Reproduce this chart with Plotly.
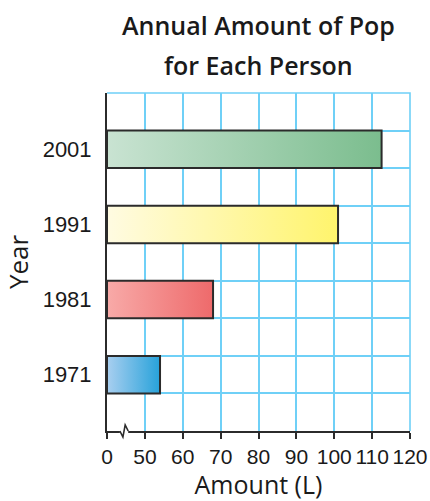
import plotly.graph_objects as go

# Annual pop consumption per person (litres)
years = ["1971", "1981", "1991", "2001"]
amounts = [54, 68, 101, 112.5]
bar_colors = [
    ("#a9cff0", "#27a2da"),
    ("#f8aaa8", "#ee6a6b"),
    ("#fffbe2", "#fff46c"),
    ("#c9e3d2", "#7bbd8e"),
]
tick_values = [40, 50, 60, 70, 80, 90, 100, 110, 120]
tick_labels = ["0", "50", "60", "70", "80", "90", "100", "110", "120"]
title_lines = ["Annual Amount of Pop", "for Each Person"]

AXIS_START = 40   # the broken axis starts here; it is labelled 0
GRID = "#6fd0f7"
INK = "#1a1a1a"
HAND = "Open Sans, Lato, sans-serif"
NUM = "Liberation Sans, sans-serif"

W, H = 430, 501
M = dict(l=107, r=20, t=93, b=70)
PLOT_H = H - M["t"] - M["b"]

# each year sits in its own grid row, with an empty row between years
centers = [1.5 + 2 * i for i in range(len(years))]

fig = go.Figure()
for yr, v, c, (c0, c1) in zip(years, amounts, centers, bar_colors):
    fig.add_trace(go.Scatter(
        x=[AXIS_START, v, v, AXIS_START, AXIS_START],
        y=[c - 0.5, c - 0.5, c + 0.5, c + 0.5, c - 0.5],
        mode="lines",
        fill="toself",
        fillgradient=dict(type="horizontal", colorscale=[[0, c0], [1, c1]]),
        line=dict(color="#2b2b2b", width=2),
        name=yr,
        hoverinfo="skip",
        showlegend=False,
    ))

# zigzag marking the break in the amount axis
fig.add_shape(type="line", xref="x", yref="paper", x0=43.4, x1=45.6, y0=0, y1=0,
              line=dict(color="white", width=4), layer="above")
fig.add_shape(
    type="path", xref="x", yref="paper",
    path="M 43.4 0 L 44.2 -0.018 L 44.8 0.018 L 45.6 0",
    line=dict(color="#2b2b2b", width=1.6), layer="above",
)

# blue frame on the top and right edges of the grid
fig.add_shape(type="path", xref="paper", yref="paper",
              path="M 0 1 L 1 1 L 1 0", line=dict(color=GRID, width=1.6), layer="below")

# two-line title, placed in pixels above the grid
for line, ypx in zip(title_lines, [25, 65]):
    fig.add_annotation(
        text=line, xref="paper", yref="paper",
        x=(258 - M["l"]) / (W - M["l"] - M["r"]), y=1 + (M["t"] - ypx) / PLOT_H,
        xanchor="center", yanchor="middle", showarrow=False,
        font=dict(family=HAND, size=25, color=INK, weight=600),
    )

fig.update_layout(
    width=W, height=H,
    margin=M,
    paper_bgcolor="white", plot_bgcolor="white",
    xaxis=dict(
        range=[AXIS_START, 120],
        tickvals=tick_values, ticktext=tick_labels, tickangle=0,
        showgrid=True, gridcolor=GRID, gridwidth=1.6,
        zeroline=False,
        showline=True, linecolor="#2b2b2b", linewidth=2,
        ticks="outside", ticklen=6, tickwidth=2, tickcolor="#2b2b2b",
        tickfont=dict(family=NUM, size=21, color=INK),
        title=dict(text="Amount (L)", font=dict(family=HAND, size=25, color=INK),
                   standoff=5),
        automargin=False,
        fixedrange=True,
    ),
    yaxis=dict(
        range=[0, 9],
        tickvals=centers, ticktext=years,
        showgrid=False, zeroline=False,
        showline=True, linecolor="#2b2b2b", linewidth=2,
        ticks="", ticklabelstandoff=9,
        tickfont=dict(family=NUM, size=22, color=INK),
        minor=dict(tick0=0, dtick=1, showgrid=True, gridcolor=GRID, gridwidth=1.6),
        title=dict(text="Year", font=dict(family=HAND, size=26, color=INK),
                   standoff=12),
        automargin=False,
        fixedrange=True,
    ),
)

fig.write_html("out.html")
